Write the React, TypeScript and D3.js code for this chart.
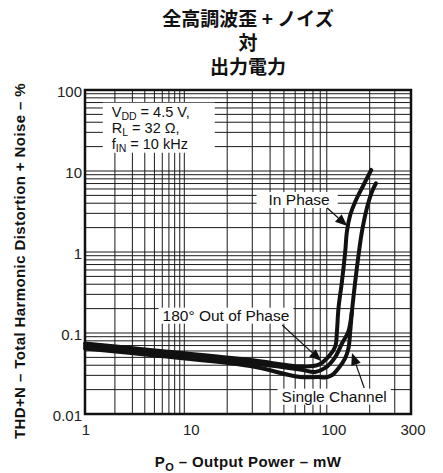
import React, { useEffect, useRef } from "react";
import * as d3 from "d3";

// ---------- data ----------
const titleLines = ["全高調波歪 + ノイズ", "対", "出力電力"];

const xTickValues = [1, 10, 100, 300];
const xTickLabels = ["1", "10", "100", "300"];
const yTickValues = [0.01, 0.1, 1, 10, 100];
const yTickLabels = ["0.01", "0.1", "1", "10", "100"];

// In Phase
const inPhaseP = [1, 4.5, 29, 65, 87, 103, 114.6, 117.8, 120.8, 127.7, 134.7, 138.4, 146, 158.3, 181, 205];
const inPhaseThd = [0.0742, 0.0617, 0.0464, 0.0388, 0.0403, 0.051, 0.0678, 0.104, 0.202, 0.43, 1.01, 1.78, 2.86, 4.18, 6.72, 10.3];

// 180° Out of Phase
const outPhaseP = [1, 4.5, 29, 65, 82.9, 97.4, 114.6, 128.3, 141.4, 150];
const outPhaseThd = [0.0691, 0.0574, 0.0426, 0.0354, 0.033, 0.037, 0.0505, 0.0752, 0.103, 0.183];

// Single Channel
const singleP = [1, 4.5, 29, 65, 87, 97.4, 109.1, 120.8, 134.7, 142.1, 146, 150.1, 158.3, 167.1, 176.5, 191.3, 207.5, 221.3];
const singleThd = [0.0644, 0.0535, 0.0391, 0.0286, 0.0286, 0.0282, 0.0303, 0.0367, 0.0491, 0.0653, 0.104, 0.183, 0.43, 0.918, 1.78, 3.49, 5.55, 7.05];

// annotations (data coordinates)
const inPhaseLabel = { text: "In Phase", x: 64, y: 3.8, from: [100.7, 3.49], to: [139.2, 2.09] };
const outPhaseLabel = { text: "180° Out of Phase", x: 19.6, y: 0.142, from: [48.6, 0.1256], to: [91.5, 0.0451] };
const singleLabel = { text: "Single Channel", x: 112.7, y: 0.0142, from: [183.2, 0.0209], to: [150.3, 0.0566] };
const condAnchor = { x: 1.86, y: 46.8 };
const condLines: [string, string, string][] = [
  ["V", "DD", " = 4.5 V,"],
  ["R", "L", " = 32 Ω,"],
  ["f", "IN", " = 10 kHz"],
];

const W = 443;
const H = 473;
const PLOT = { left: 85, right: 411, top: 90, bottom: 414 };
const SANS = "'Liberation Sans', Arial, Helvetica, sans-serif";
const CJK = "'Noto Sans CJK JP', 'Noto Sans CJK SC', sans-serif";

export default function App() {
  const ref = useRef<SVGSVGElement>(null);

  useEffect(() => {
    const svg = d3.select(ref.current);
    svg.selectAll("*").remove();

    // piecewise log x-scale (the datasheet decades are of unequal width)
    const xMax = 390;
    const xLin = d3
      .scaleLinear()
      .domain([0, 1, Math.log10(xMax)])
      .range([PLOT.left, 184.3, PLOT.right]);
    const x = (v: number) => xLin(Math.log10(v));
    const y = d3.scaleLog().domain([0.01, 100]).range([PLOT.bottom, PLOT.top]);

    svg.append("rect").attr("width", W).attr("height", H).attr("fill", "#fff");

    // title
    titleLines.forEach((t, i) => {
      svg
        .append("text")
        .attr("x", (PLOT.left + PLOT.right) / 2)
        .attr("y", 26 + i * 24)
        .attr("text-anchor", "middle")
        .attr("font-family", CJK)
        .attr("font-weight", "bold")
        .attr("font-size", 19)
        .attr("fill", "#111")
        .text(t);
    });

    // grid
    const g = svg.append("g");
    const xGrid: number[] = [];
    for (let d = 1; d <= 100; d *= 10) {
      for (let k = 1; k <= 9; k++) {
        const v = k * d;
        if (v > 1 && v < xMax) xGrid.push(v);
      }
    }
    const yGrid: number[] = [];
    for (let d = 0.01; d < 100; d *= 10) {
      for (let k = 1; k <= 9; k++) {
        const v = k * d;
        if (v > 0.0100001 && v < 99.99) yGrid.push(v);
      }
    }
    g.selectAll("line.vx")
      .data(xGrid)
      .join("line")
      .attr("x1", (d) => x(d))
      .attr("x2", (d) => x(d))
      .attr("y1", PLOT.top)
      .attr("y2", PLOT.bottom)
      .attr("stroke", "#1a1a1a")
      .attr("stroke-width", 1);
    g.selectAll("line.hy")
      .data(yGrid)
      .join("line")
      .attr("x1", PLOT.left)
      .attr("x2", PLOT.right)
      .attr("y1", (d) => y(d))
      .attr("y2", (d) => y(d))
      .attr("stroke", "#1a1a1a")
      .attr("stroke-width", 1);

    // helper: text with white box behind
    const boxes = svg.append("g");
    const labels = svg.append("g");

    const addBoxedText = (
      lab: { text: string; x: number; y: number },
      padL: number,
      padR: number
    ) => {
      const t = labels
        .append("text")
        .attr("x", x(lab.x))
        .attr("y", y(lab.y))
        .attr("text-anchor", "middle")
        .attr("font-family", SANS)
        .attr("font-size", 15.5)
        .attr("fill", "#111")
        .text(lab.text);
      const bb = (t.node() as SVGTextElement).getBBox();
      boxes
        .append("rect")
        .attr("x", bb.x - padL)
        .attr("y", bb.y + 1)
        .attr("width", bb.width + padL + padR)
        .attr("height", bb.height - 1)
        .attr("fill", "#fff");
    };

    addBoxedText(inPhaseLabel, 12, 8);
    addBoxedText(outPhaseLabel, 4, 4);
    addBoxedText(singleLabel, 4, 4);

    // conditions block
    const cx = x(condAnchor.x);
    const cy = y(condAnchor.y);
    let minX = Infinity, minY = Infinity, maxX = -Infinity, maxY = -Infinity;
    condLines.forEach((ln, i) => {
      const t = labels
        .append("text")
        .attr("x", cx)
        .attr("y", cy + i * 16)
        .attr("font-family", SANS)
        .attr("font-size", 14.5)
        .attr("fill", "#111");
      t.append("tspan").text(ln[0]);
      t.append("tspan").attr("font-size", 10.5).attr("dy", 3).text(ln[1]);
      t.append("tspan").attr("dy", -3).text(ln[2]);
      const bb = (t.node() as SVGTextElement).getBBox();
      minX = Math.min(minX, bb.x);
      minY = Math.min(minY, bb.y);
      maxX = Math.max(maxX, bb.x + bb.width);
      maxY = Math.max(maxY, bb.y + bb.height);
    });
    boxes
      .append("rect")
      .attr("x", minX - 9)
      .attr("y", minY - 1)
      .attr("width", maxX - minX + 34)
      .attr("height", maxY - minY)
      .attr("fill", "#fff");

    // curves
    const line = d3
      .line<[number, number]>()
      .x((d) => x(d[0]))
      .y((d) => y(d[1]))
      .curve(d3.curveCatmullRom.alpha(0.5));
    const series: [number[], number[]][] = [
      [singleP, singleThd],
      [outPhaseP, outPhaseThd],
      [inPhaseP, inPhaseThd],
    ];
    const curves = svg.append("g");
    series.forEach(([px, py]) => {
      curves
        .append("path")
        .attr("d", line(px.map((v, i) => [v, py[i]] as [number, number])) as string)
        .attr("fill", "none")
        .attr("stroke", "#111")
        .attr("stroke-width", 4)
        .attr("stroke-linejoin", "round")
        .attr("stroke-linecap", "round");
    });

    // arrows
    const arrows = svg.append("g");
    [inPhaseLabel, outPhaseLabel, singleLabel].forEach((a) => {
      const x0 = x(a.from[0]);
      const y0 = y(a.from[1]);
      const x1 = x(a.to[0]);
      const y1 = y(a.to[1]);
      const ang = Math.atan2(y1 - y0, x1 - x0);
      const L = 12;
      const Wd = 5;
      const bx = x1 - L * Math.cos(ang);
      const by = y1 - L * Math.sin(ang);
      arrows
        .append("line")
        .attr("x1", x0)
        .attr("y1", y0)
        .attr("x2", bx)
        .attr("y2", by)
        .attr("stroke", "#111")
        .attr("stroke-width", 1.2);
      arrows
        .append("path")
        .attr(
          "d",
          `M${x1},${y1}L${bx + Wd * Math.sin(ang)},${by - Wd * Math.cos(ang)}L${bx - Wd * Math.sin(ang)},${by + Wd * Math.cos(ang)}Z`
        )
        .attr("fill", "#111");
    });

    // border
    svg
      .append("rect")
      .attr("x", PLOT.left)
      .attr("y", PLOT.top)
      .attr("width", PLOT.right - PLOT.left)
      .attr("height", PLOT.bottom - PLOT.top)
      .attr("fill", "none")
      .attr("stroke", "#111")
      .attr("stroke-width", 2.5);

    // y tick labels
    svg
      .append("g")
      .selectAll("text")
      .data(yTickValues)
      .join("text")
      .attr("x", PLOT.left - 3)
      .attr("y", (d) => y(d) + 6.5)
      .attr("text-anchor", "end")
      .attr("font-family", SANS)
      .attr("font-size", 15)
      .attr("fill", "#222")
      .text((d, i) => yTickLabels[i]);

    // x tick labels
    const last = xTickValues.length - 1;
    svg
      .append("g")
      .selectAll("text")
      .data(xTickValues)
      .join("text")
      .attr("x", (d, i) => (i === last ? PLOT.right + 2 : i === 0 ? x(d) + 1 : x(d) + 7))
      .attr("y", PLOT.bottom + 21)
      .attr("text-anchor", "middle")
      .attr("font-family", SANS)
      .attr("font-size", 15)
      .attr("fill", "#222")
      .text((d, i) => xTickLabels[i]);

    // x axis title
    const xt = svg
      .append("text")
      .attr("x", (PLOT.left + PLOT.right) / 2)
      .attr("y", 467)
      .attr("text-anchor", "middle")
      .attr("font-family", SANS)
      .attr("font-weight", "bold")
      .attr("font-size", 15)
      .attr("letter-spacing", 0.4)
      .attr("fill", "#111");
    xt.append("tspan").text("P");
    xt.append("tspan").attr("font-size", 11).attr("dy", 4).text("O");
    xt.append("tspan").attr("dy", -4).text(" – Output Power – mW");

    // y axis title
    svg
      .append("text")
      .attr("transform", `translate(25, 261) rotate(-90)`)
      .attr("text-anchor", "middle")
      .attr("font-family", SANS)
      .attr("font-weight", "bold")
      .attr("font-size", 15)
      .attr("letter-spacing", 0.4)
      .attr("fill", "#111")
      .text("THD+N – Total Harmonic Distortion + Noise – %");
  }, []);

  return (
    <svg
      ref={ref}
      width={W}
      height={H}
      style={{ position: "absolute", left: 0, top: 0, display: "block" }}
    />
  );
}
